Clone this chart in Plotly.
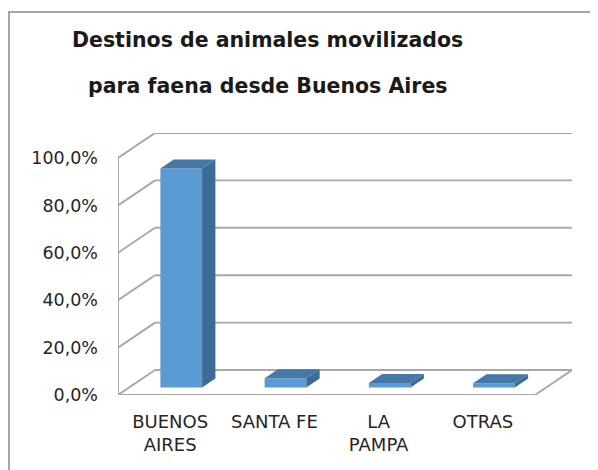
import plotly.graph_objects as go

# ---------------- data ----------------
categories = ["BUENOS<br>AIRES", "SANTA FE", "LA<br>PAMPA", "OTRAS"]
values = [92.4, 3.9, 1.9, 1.8]          # percent
tick_vals = [0, 20, 40, 60, 80, 100]
tick_labels = ["0,0%", "20,0%", "40,0%", "60,0%", "80,0%", "100,0%"]
title_lines = ["Destinos de animales movilizados", "para faena desde Buenos Aires"]

# ---------------- 3D projection constants (data units) ----------------
DX = 0.355      # full depth shift along x (category units)
DY = 10.55      # full depth shift along y (percent units)
D0 = 0.30       # depth of bar front face
DD = 0.36       # bar depth
BAR_W = 0.40
X_LO, X_HI = -0.5, len(categories) - 0.5

FRONT = "#5B9BD5"
SIDE = "#3B6C98"
TOP = "#4677A6"
GRID = "#a8a8a8"
TXT = "#262626"

fig = go.Figure()

# walls / gridlines (base axes, drawn beneath the bars)
gx, gy = [], []
for t in tick_vals:
    gx += [X_LO + DX, X_HI + DX, None]
    gy += [t + DY, t + DY, None]
    gx += [X_LO, X_LO + DX, None]
    gy += [t, t + DY, None]
gx += [X_LO, X_LO, None]
gy += [tick_vals[0], tick_vals[-1], None]
gx += [X_LO, X_HI, X_HI + DX, None]
gy += [0, 0, DY, None]
fig.add_trace(go.Scatter(x=gx, y=gy, mode="lines", line=dict(color=GRID, width=1.9),
                         hoverinfo="skip", showlegend=False, cliponaxis=False))

# bar front faces (overlay axes, drawn above gridlines)
xs = [i + D0 * DX for i in range(len(values))]
fig.add_trace(go.Bar(x=xs, y=values, base=[D0 * DY] * len(values), width=BAR_W,
                     marker=dict(color=FRONT, line=dict(width=0)),
                     hoverinfo="skip", showlegend=False, xaxis="x2", yaxis="y2"))

# side and top faces
sx, sy, tx, ty = [], [], [], []
for i, v in enumerate(values):
    xl = xs[i] - BAR_W / 2
    xr = xs[i] + BAR_W / 2
    b = D0 * DY
    ox, oy = DD * DX, DD * DY
    sx += [xr, xr, xr + ox, xr + ox, xr, None]
    sy += [b, b + v, b + v + oy, b + oy, b, None]
    tx += [xl, xr, xr + ox, xl + ox, xl, None]
    ty += [b + v, b + v, b + v + oy, b + v + oy, b + v, None]
fig.add_trace(go.Scatter(x=sx, y=sy, mode="lines", fill="toself", fillcolor=SIDE,
                         line=dict(width=0, color=SIDE), hoverinfo="skip",
                         showlegend=False, cliponaxis=False, xaxis="x2", yaxis="y2"))
fig.add_trace(go.Scatter(x=tx, y=ty, mode="lines", fill="toself", fillcolor=TOP,
                         line=dict(width=0, color=TOP), hoverinfo="skip",
                         showlegend=False, cliponaxis=False, xaxis="x2", yaxis="y2"))

FONT = "DejaVu Sans"
XR = [X_LO, X_HI + DX]
YR = [0, 100 + DY]

fig.update_layout(
    width=590, height=462, autosize=False,
    margin=dict(l=110, r=26, t=125, b=75),
    paper_bgcolor="white", plot_bgcolor="rgba(0,0,0,0)",
    showlegend=False,
    font=dict(family=FONT, size=16, color=TXT),
    xaxis=dict(range=XR, tickvals=list(range(len(categories))),
               ticktext=categories, showgrid=False, zeroline=False, showline=False,
               ticks="", ticklabelstandoff=14, tickfont=dict(size=18, color=TXT),
               fixedrange=True, automargin=False),
    yaxis=dict(range=YR, tickvals=tick_vals, ticktext=tick_labels,
               showgrid=False, zeroline=False, showline=False, ticks="",
               ticklabelstandoff=19, tickfont=dict(size=17.5, color=TXT),
               fixedrange=True, automargin=False),
    xaxis2=dict(range=XR, overlaying="x", visible=False, fixedrange=True),
    yaxis2=dict(range=YR, overlaying="y", visible=False, fixedrange=True),
    shapes=[dict(type="rect", xref="paper", yref="paper",
                 x0=-0.2401, x1=1.09, y0=-0.33, y1=1.4618,
                 line=dict(color="#a6a6a6", width=2), fillcolor="rgba(0,0,0,0)",
                 layer="below")],
)

for txt, yp in zip(title_lines, [1.355, 1.178]):
    fig.add_annotation(text="<b>" + txt + "</b>", xref="paper", yref="paper",
                       x=0.330, y=yp, xanchor="center", yanchor="middle",
                       showarrow=False, font=dict(family=FONT, size=20.5, color="#1a1a1a"))

fig.write_html("out.html")
